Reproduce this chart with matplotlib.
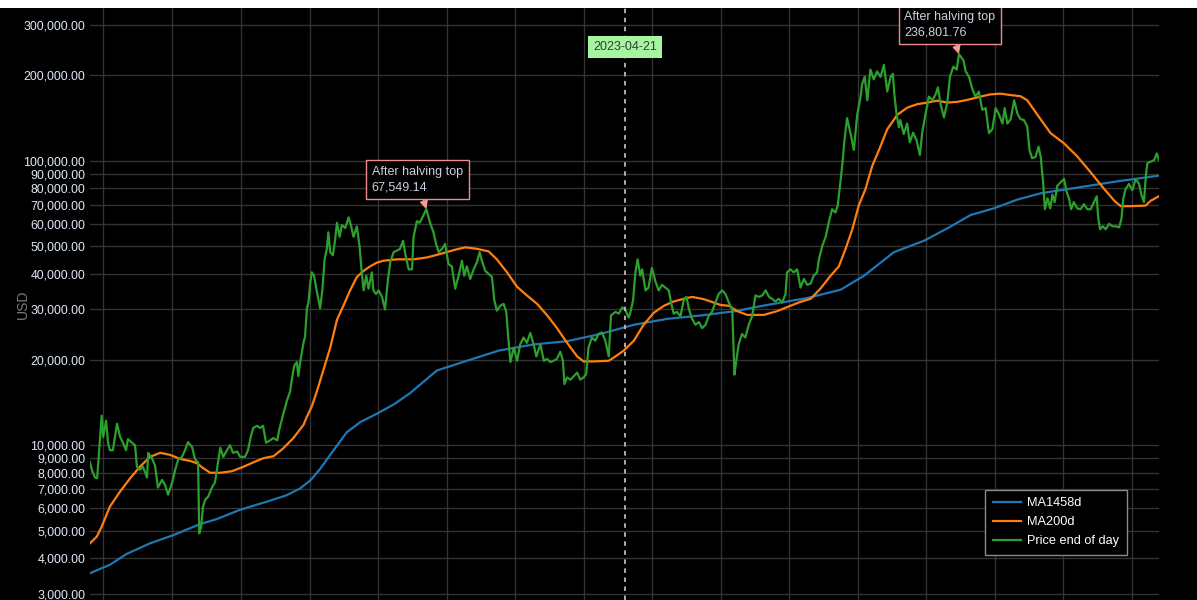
import numpy as np
import matplotlib
matplotlib.use("Agg")
import matplotlib.pyplot as plt
import matplotlib.dates as mdates
from matplotlib.ticker import FixedLocator, FuncFormatter, NullLocator
from matplotlib.patches import Rectangle

plt.rcParams['font.family'] = ['Liberation Sans', 'DejaVu Sans']

# ---------------- data ----------------
START_DATE = "2019-05-27"          # day 0 of the series
MARKER_DATE = "2023-04-21"

# price end of day: (day offset from START_DATE, USD)
price_days = [0, 5, 13, 19, 24, 31, 35, 43, 48, 53, 61, 72, 80, 88, 96, 101, 112, 120, 125, 133,
              141, 152, 155, 165, 173, 181, 192, 200, 208, 219, 227, 235, 245, 253, 261, 272, 280, 288, 291, 296,
              301, 307, 315, 325, 333, 341, 347, 355, 365, 373, 381, 392, 400, 413, 421, 429, 435, 445, 453, 461,
              469, 480, 488, 499, 504, 515, 520, 525, 533, 538, 544, 551, 555, 560, 569, 573, 578, 582, 587, 591,
              597, 604, 613, 619, 625, 631, 635, 640, 647, 653, 658, 665, 671, 680, 689, 695, 702, 711, 718, 724,
              729, 736, 742, 751, 755, 762, 769, 778, 786, 794, 800, 809, 818, 826, 834, 840, 849, 858, 862, 871,
              878, 884, 896, 906, 915, 922, 929, 938, 946, 955, 964, 973, 982, 991, 997, 1004, 1013, 1022, 1031, 1038,
              1044, 1053, 1062, 1071, 1077, 1084, 1093, 1102, 1109, 1115, 1120, 1129, 1138, 1146, 1155, 1164, 1173, 1182, 1189, 1200,
              1209, 1218, 1226, 1235, 1244, 1253, 1260, 1264, 1271, 1280, 1289, 1298, 1306, 1315, 1322, 1328, 1337, 1346, 1355, 1364,
              1373, 1382, 1388, 1400, 1409, 1418, 1426, 1435, 1440, 1447, 1453, 1459, 1466, 1471, 1480, 1488, 1497, 1506, 1515, 1524,
              1533, 1542, 1548, 1555, 1564, 1573, 1582, 1589, 1596, 1604, 1613, 1622, 1631, 1640, 1648, 1657, 1666, 1675, 1684, 1693,
              1702, 1711, 1717, 1720, 1728, 1737, 1746, 1755, 1764, 1773, 1782, 1791, 1800, 1809, 1817, 1826, 1835, 1844, 1853, 1857,
              1866, 1875, 1884, 1893, 1902, 1911, 1920, 1928, 1937, 1942, 1951, 1960, 1968, 1977, 1986, 1992, 1998, 2004, 2010, 2017,
              2026, 2035, 2044, 2053, 2057, 2064, 2071, 2079, 2088, 2097, 2106, 2115, 2124, 2133, 2139, 2143, 2149, 2155, 2159, 2168,
              2177, 2184, 2193, 2202, 2211, 2217, 2226, 2235, 2244, 2253, 2259, 2266, 2275, 2284, 2291, 2300, 2309, 2315, 2327, 2333,
              2342, 2351, 2359, 2368, 2377, 2386, 2395, 2404, 2413, 2422, 2431, 2437, 2444, 2453, 2462, 2471, 2479, 2488, 2497, 2503,
              2510, 2519, 2527, 2533, 2540, 2544, 2551, 2558, 2564, 2570, 2577, 2586, 2595, 2602, 2608, 2614, 2621, 2630, 2639, 2648,
              2657, 2666, 2675, 2682, 2686, 2691, 2698, 2706, 2715, 2724, 2733, 2742, 2748, 2753, 2759, 2768, 2777, 2786, 2795, 2801,
              2808, 2813, 2817, 2826, 2835, 2842, 2848]
price_usd = [8700, 8200, 7700, 7650, 9400, 12700, 10700, 12200, 10200, 9600, 9600, 11900, 10700, 10200, 9600, 10500, 10200, 10000, 8400, 8200,
             8400, 7700, 9400, 9000, 8500, 7100, 7550, 7250, 6700, 7400, 8200, 8900, 9100, 9600, 10250, 9850, 8900, 8700, 4900, 5150,
             6070, 6430, 6600, 7100, 7400, 8700, 9800, 9100, 9600, 10000, 9400, 9500, 9100, 9100, 9600, 10800, 11500, 11700, 11500, 11700,
             10200, 10400, 10600, 10400, 11300, 12900, 13600, 14400, 15400, 17100, 19000, 19600, 17500, 19600, 23000, 24100, 30300, 31700, 37400, 40500,
             39400, 34900, 30300, 35000, 45000, 49000, 56000, 47700, 46500, 52700, 60500, 54000, 59400, 58000, 63200, 59400, 54000, 58700, 50200, 40500,
             35000, 39400, 35500, 40500, 35000, 34000, 35000, 33200, 30000, 38400, 44000, 47700, 48300, 49000, 52300, 47000, 41500, 41500, 54000, 61300,
             60500, 62500, 67549.14, 60500, 56000, 51000, 47700, 49000, 51000, 43300, 42500, 35500, 39400, 44500, 39400, 42500, 38400, 41500, 44000, 47700,
             44500, 41000, 40000, 39000, 32400, 29700, 30900, 31400, 29400, 23300, 19600, 22000, 19800, 22600, 23900, 22900, 24800, 22600, 20500, 22600,
             19800, 20100, 19600, 19800, 20100, 21300, 19800, 16400, 17300, 17000, 17500, 18000, 17000, 17300, 17800, 22000, 23900, 23300, 24600, 24900,
             23300, 20500, 28600, 29400, 29000, 30500, 30000, 28100, 29400, 32400, 40500, 45000, 39400, 41500, 35000, 35800, 42000, 37800, 35000, 36600,
             35800, 35000, 31700, 29000, 29400, 28400, 32400, 33200, 30000, 27800, 26500, 27100, 25800, 26500, 28400, 29400, 31700, 34000, 35000, 34000,
             31700, 30000, 17700, 19000, 22600, 24600, 23900, 26500, 28400, 33600, 33200, 33600, 35000, 33200, 32700, 32000, 32700, 31700, 34000, 40500,
             41500, 40500, 41500, 35800, 38400, 36600, 37000, 39400, 40500, 45000, 50200, 54000, 60500, 67500, 65700, 69500, 81600, 95800, 118000, 141000,
             125000, 109000, 145000, 168000, 186000, 197000, 163000, 209000, 193000, 206000, 197000, 217000, 175000, 197000, 202000, 171000, 145000, 131000, 139000, 124000,
             135000, 116000, 125500, 118000, 104700, 125000, 146000, 168000, 163000, 171000, 181000, 158000, 142000, 160000, 197000, 214000, 209000, 236801.76, 225000, 206000,
             197000, 178000, 168000, 175000, 151000, 153000, 125000, 129000, 153000, 145000, 135000, 153000, 135000, 140000, 163000, 146000, 140000, 139000, 132000, 109000,
             102000, 103000, 112000, 103000, 81600, 67500, 73800, 68000, 76000, 71500, 81600, 84000, 86200, 77600, 73800, 67500, 71500, 68000, 67500, 70300,
             67500, 67500, 71500, 75000, 63000, 57400, 58800, 57400, 60000, 58800, 58800, 58300, 62500, 73800, 79500, 82800, 78800, 86200, 82800, 76000,
             71500, 88600, 98000, 99200, 100500, 106000, 100500]

# 200-day moving average
ma200_days = [0, 18, 31, 53, 80, 107, 133, 160, 187, 213, 240, 267, 284, 302, 320, 347, 378, 409, 435, 462,
              489, 515, 542, 569, 578, 591, 604, 622, 640, 658, 675, 693, 711, 729, 746, 764, 782, 818, 862, 898,
              933, 969, 1000, 1031, 1062, 1084, 1111, 1138, 1164, 1191, 1218, 1244, 1271, 1298, 1315, 1342, 1382, 1395, 1422, 1449,
              1475, 1502, 1529, 1555, 1582, 1604, 1635, 1662, 1680, 1702, 1724, 1751, 1778, 1795, 1831, 1866, 1893, 1920, 1946, 1973,
              1995, 2013, 2031, 2048, 2066, 2084, 2102, 2124, 2151, 2177, 2204, 2231, 2257, 2284, 2311, 2337, 2373, 2399, 2426, 2453,
              2479, 2497, 2524, 2559, 2595, 2630, 2666, 2702, 2729, 2746, 2773, 2812, 2826, 2848]
ma200_usd = [4520, 4770, 5170, 6080, 6870, 7650, 8400, 9100, 9400, 9250, 8950, 8800, 8650, 8300, 8000, 8000, 8100, 8400, 8700, 9000,
             9150, 9750, 10600, 11800, 12600, 13700, 15400, 18400, 22000, 27600, 30900, 35000, 39000, 41000, 42500, 43800, 44500, 45000, 45000, 45700,
             47000, 48500, 49600, 49000, 48000, 45000, 40500, 36000, 33600, 31400, 28600, 25800, 22900, 20500, 19700, 19700, 19800, 20300, 21500, 23300,
             26500, 29200, 30900, 32000, 32700, 33200, 32600, 31700, 31100, 30900, 29600, 28700, 28700, 28700, 29600, 30900, 31900, 32700, 35500, 39400,
             42500, 49000, 57400, 69500, 79500, 95800, 109000, 129000, 145000, 153500, 158000, 160000, 162500, 160000, 161000, 163500, 168000, 171000, 172000, 170000,
             168500, 163000, 145000, 125000, 115000, 103600, 91000, 79500, 72300, 69200, 69200, 69500, 72300, 75000]

# 1458-day moving average
ma1458_days = [0, 53, 98, 160, 222, 293, 338, 400, 471, 524, 560, 587, 613, 649, 684, 720, 764, 809, 853, 924,
               1004, 1089, 1182, 1271, 1360, 1449, 1538, 1631, 1720, 1786, 1822, 1911, 2000, 2062, 2142, 2222, 2293, 2346, 2408, 2471,
               2533, 2648, 2737, 2848]
ma1458_usd = [3550, 3800, 4150, 4520, 4830, 5280, 5500, 5930, 6330, 6670, 7050, 7520, 8250, 9600, 11100, 12050, 12900, 13900, 15250, 18300,
              19800, 21500, 22600, 23200, 24600, 26500, 27800, 28600, 29600, 30800, 31400, 32900, 35200, 39400, 47700, 52300, 58700, 64400, 68000, 73000,
              76800, 81100, 84600, 88600]

tops_days = [896, 2315]
tops_usd = [67549.14, 236801.76]
tops_label = "After halving top"

y_ticks = [3000, 4000, 5000, 6000, 7000, 8000, 9000, 10000, 20000, 30000, 40000, 50000,
           60000, 70000, 80000, 90000, 100000, 200000, 300000]
y_range = (2857, 344000)

series_names = ["MA1458d", "MA200d", "Price end of day"]
series_colors = ["#1f77b4", "#ff7f0e", "#2ca02c"]

# ---------------- helpers ----------------
start = np.datetime64(START_DATE)
def to_dates(days):
    return (start + np.array(days).astype('timedelta64[D]')).astype('datetime64[ms]').astype(object)

# ---------------- figure ----------------
W, H = 1197, 600
fig = plt.figure(figsize=(W / 100, H / 100), dpi=100, facecolor='black')
ax = fig.add_axes([90 / W, 0, (1159 - 90) / W, (600 - 8) / H])
ax.set_facecolor('black')

ax.plot(to_dates(ma1458_days), ma1458_usd, color=series_colors[0], lw=1.6, label=series_names[0], zorder=3)
ax.plot(to_dates(ma200_days), ma200_usd, color=series_colors[1], lw=1.6, label=series_names[1], zorder=3)
ax.plot(to_dates(price_days), price_usd, color=series_colors[2], lw=1.6, label=series_names[2], zorder=4)

ax.set_yscale('log')
ax.set_ylim(*y_range)
ax.set_xlim(to_dates([price_days[0]])[0], to_dates([price_days[-1]])[0])

ax.yaxis.set_major_locator(FixedLocator(y_ticks))
ax.yaxis.set_minor_locator(NullLocator())
ax.yaxis.set_major_formatter(FuncFormatter(lambda v, p: f"{v:,.2f}"))
ax.xaxis.set_major_locator(mdates.MonthLocator(bymonth=[1, 7]))
ax.xaxis.set_minor_locator(NullLocator())
ax.xaxis.set_major_formatter(FuncFormatter(lambda v, p: ""))

ax.tick_params(axis='y', length=0, pad=3.5, labelsize=8.9, labelcolor='#dfe7f5')
ax.tick_params(axis='x', length=0)
ax.grid(True, color='#333333', lw=1.0, zorder=0)
ax.set_axisbelow(True)
for s in ax.spines.values():
    s.set_visible(False)

ax.set_ylabel("USD", color='#7a7a7a', fontsize=10)
ax.yaxis.set_label_coords(-0.0565, 0.5)

# marker line
md = np.datetime64(MARKER_DATE).astype('datetime64[ms]').astype(object)
ax.axvline(md, color='#bbbbbb', lw=1.3, ls=(0, (2.5, 2.5)), zorder=5)
ax.text(md, 0.934, MARKER_DATE, transform=ax.get_xaxis_transform(), ha='center', va='center',
        fontsize=9, color='#3a3a3a', zorder=6,
        bbox=dict(boxstyle='square,pad=0.42', fc='#a6f5a0', ec='none'))

# top annotations
for d, v in zip(tops_days, tops_usd):
    ax.annotate(f"{tops_label}\n{v:,.2f}", xy=(to_dates([d])[0], v), xytext=(-9, 16),
                textcoords='offset pixels', ha='center', va='bottom', multialignment='left',
                fontsize=9, color='#c9d1dc', linespacing=1.35, zorder=7, annotation_clip=False,
                bbox=dict(boxstyle='square,pad=0.45', fc='black', ec='#f08c8c', lw=1),
                arrowprops=dict(arrowstyle='-|>', color='#f49a9a', lw=1, mutation_scale=12,
                                shrinkA=0, shrinkB=0))

leg = ax.legend(loc='lower right', bbox_to_anchor=(0.970, 0.076), borderaxespad=0,
                facecolor='black', edgecolor='#8a8a8a', fontsize=9.2, labelcolor='white',
                framealpha=1, fancybox=False, handlelength=2.2, handletextpad=0.5,
                borderpad=0.6, labelspacing=0.55)
leg.get_frame().set_linewidth(1)
leg.set_zorder(10)

fig.patches.append(Rectangle((0, 1 - 8 / H), 1, 8 / H, transform=fig.transFigure,
                             fc='white', ec='none', zorder=100))

fig.savefig("out.png", dpi=100, facecolor='black')
